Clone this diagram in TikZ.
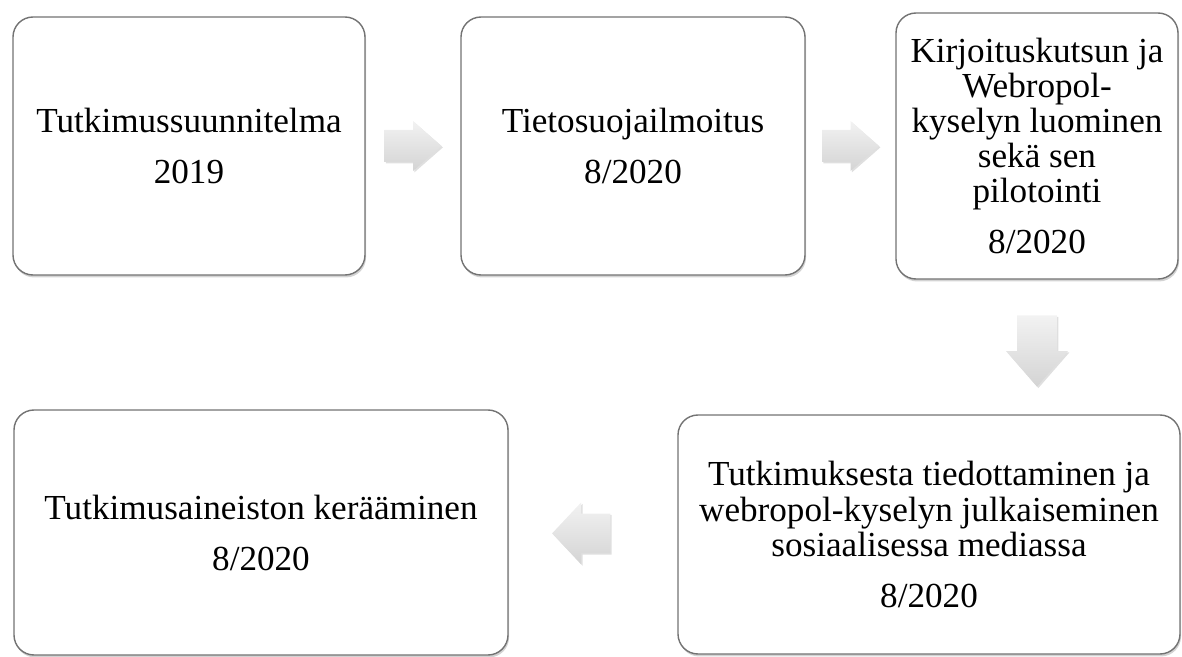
\documentclass[tikz,border=0pt]{standalone}
\usepackage{fontspec}
\setmainfont{Liberation Serif}
\usetikzlibrary{calc}
\usetikzlibrary{shadows}

\tikzset{
  stage/.style={draw=black!55, line width=0.8pt, fill=white, rounded corners=0.4cm,
    align=center, inner sep=2pt, font=\fontsize{20}{20}\selectfont,
    drop shadow={opacity=0.35, shadow xshift=0.6pt, shadow yshift=-1.4pt}},
  blockarrow/.style={top color=black!5, bottom color=black!17, draw=none,
    drop shadow={opacity=0.25, shadow xshift=0.8pt, shadow yshift=-0.8pt}},
  pics/flowarrow/.style={code={
    \path[blockarrow] (-0.57,-0.32) -- (0,-0.32) -- (0,-0.5) -- (0.57,0)
      -- (0,0.5) -- (0,0.32) -- (-0.57,0.32) -- cycle;
  }},
}

\begin{document}
\begin{tikzpicture}
\useasboundingbox (0,0) rectangle (23.64,-13.14);

\node[stage, minimum width=7.04cm, minimum height=5.16cm] (plan)
  at (3.78,-2.92) {Tutkimussuunnitelma\\[9pt]2019};
\node[stage, minimum width=6.88cm, minimum height=5.16cm] (notice)
  at (12.66,-2.92) {Tietosuojailmoitus\\[9pt]8/2020};
\node[stage, minimum width=5.64cm, minimum height=5.32cm] (survey)
  at (20.74,-2.92) {Kirjoituskutsun ja\\Webropol-\\kyselyn luominen\\sekä sen\\pilotointi\\[9pt]8/2020};
\node[stage, minimum width=10.04cm, minimum height=4.78cm] (publish)
  at (18.58,-10.69) {Tutkimuksesta tiedottaminen ja\\webropol-kyselyn julkaiseminen\\sosiaalisessa mediassa\\[9pt]8/2020};
\node[stage, minimum width=9.88cm, minimum height=4.9cm] (collect)
  at (5.22,-10.65) {Tutkimusaineiston kerääminen\\[9pt]8/2020};

% arrows between the stages
\coordinate (a-1) at ($(plan.east)!0.5!(notice.west)$);
\coordinate (a-2) at ($(notice.east)!0.5!(survey.west)$);
\coordinate (a-3) at ($(survey.south)!0.53!(survey.south |- publish.north)$);
\coordinate (a-4) at ($(publish.west)!0.57!(collect.east)$);
\pic at (a-1) {flowarrow};
\pic at (a-2) {flowarrow};
\pic[rotate=-90, xscale=1.25, yscale=1.24] at (a-3) {flowarrow};
\pic[rotate=180, xscale=1.02, yscale=1.24] at (a-4) {flowarrow};
\end{tikzpicture}
\end{document}
